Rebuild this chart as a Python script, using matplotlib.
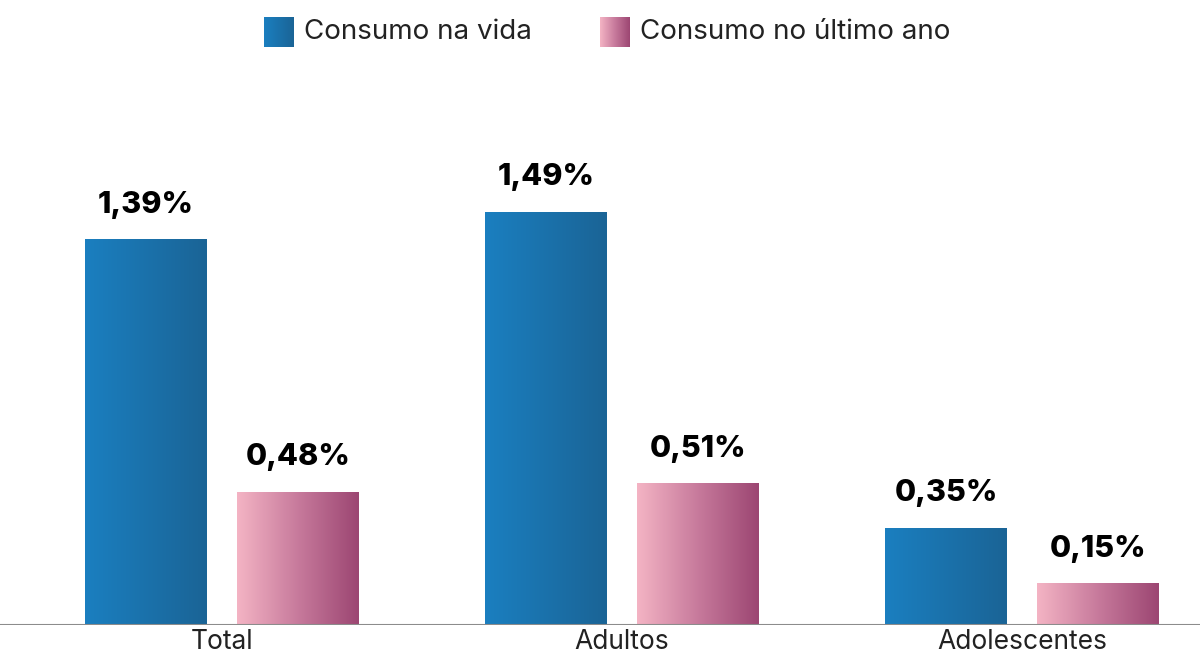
import matplotlib.pyplot as plt
import numpy as np
from matplotlib.colors import LinearSegmentedColormap

categories = ['Total', 'Adultos', 'Adolescentes']
series_names = ['Consumo na vida', 'Consumo no último ano']
vida = [1.39, 1.49, 0.35]
ultimo_ano = [0.48, 0.51, 0.15]

blue_cmap = LinearSegmentedColormap.from_list('blue', ['#1b7fc0', '#1a6496'])
pink_cmap = LinearSegmentedColormap.from_list('pink', ['#f4b4c4', '#c77a9c', '#9c4672'])

plt.rcParams['font.family'] = ['Inter', 'DejaVu Sans']

W, H = 1200, 655
fig = plt.figure(figsize=(W / 100, H / 100), dpi=100)
ax = fig.add_axes([0, 30 / H, 1, (H - 30) / H])

grad = np.linspace(0, 1, 256).reshape(1, -1)


def gradient_bar(x0, x1, h, cmap):
    ax.imshow(grad, extent=[x0, x1, 0, h], aspect='auto', cmap=cmap,
              interpolation='bicubic', zorder=2)


x = np.arange(len(categories))
width = 0.305
offset = 0.19

for i in range(len(categories)):
    for vals, cmap, off in [(vida, blue_cmap, -offset), (ultimo_ano, pink_cmap, offset)]:
        cx = x[i] + off
        v = vals[i]
        gradient_bar(cx - width / 2, cx + width / 2, v, cmap)
        ax.annotate(f'{v:.2f}%'.replace('.', ','), (cx, v), xytext=(0, 15),
                    textcoords='offset points', ha='center', va='bottom',
                    fontsize=22, fontweight='heavy', color='#000000')

ax.axhline(0, color='#8c8c8c', lw=1.5, zorder=3)
ax.set_xlim(-0.555, 2.445)
ax.set_ylim(0, 625 / 277)
ax.set_xticks(x)
ax.set_xticklabels(categories, fontsize=19, color='#222222')
ax.tick_params(axis='x', length=0, pad=3)
ax.set_yticks([])
for s in ax.spines.values():
    s.set_visible(False)

# legend drawn by hand so the swatches can carry the gradient
legend_items = [(264, blue_cmap), (600, pink_cmap)]
for (px, cmap), name in zip(legend_items, series_names):
    sw = fig.add_axes([px / W, 1 - 47 / H, 30 / W, 30 / H])
    sw.imshow(grad, aspect='auto', cmap=cmap, interpolation='bicubic')
    sw.axis('off')
    fig.text((px + 40) / W, 1 - 32 / H, name, fontsize=20, va='center',
             ha='left', color='#222222')

fig.savefig('out.png', dpi=100)
plt.close()
